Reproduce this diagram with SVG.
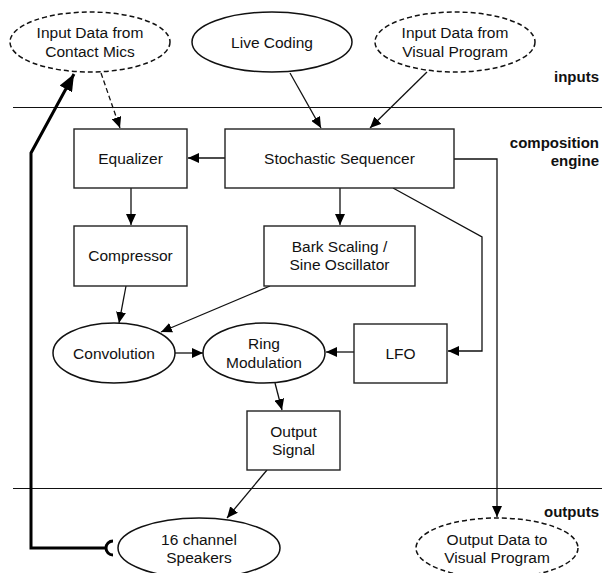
<svg xmlns="http://www.w3.org/2000/svg" width="602" height="573" viewBox="0 0 602 573">
  <defs>
    <marker id="arrow" markerWidth="12" markerHeight="10" refX="11" refY="5" orient="auto" markerUnits="userSpaceOnUse">
      <path d="M0,0 L11,5 L0,10 z" fill="#000"/>
    </marker>
    <marker id="arrowBig" markerWidth="18" markerHeight="14" refX="17" refY="7" orient="auto" markerUnits="userSpaceOnUse">
      <path d="M0,0 L17,7 L0,14 z" fill="#000"/>
    </marker>
    <style>
      .box { fill: #fff; stroke: #222; stroke-width: 1.4; }
      .oval { fill: #fff; stroke: #111; stroke-width: 1.5; }
      .dashed { stroke-dasharray: 5 3; }
      .lbl { font-family: "Liberation Sans", Arial, sans-serif; font-size: 15.5px; fill: #111; text-anchor: middle; }
      .zone { font-family: "Liberation Sans", Arial, sans-serif; font-size: 15px; font-weight: bold; fill: #111; text-anchor: end; }
      .edge { fill: none; stroke: #111; stroke-width: 1.3; }
      .sep { stroke: #111; stroke-width: 1; }
    </style>
  </defs>

  <rect width="602" height="573" fill="#fff"/>

  <!-- zone separators and labels -->
  <g id="zones">
    <line class="sep" x1="13" y1="107.5" x2="602" y2="107.5"/>
    <line class="sep" x1="13" y1="488.5" x2="602" y2="488.5"/>
    <text class="zone" x="599" y="82">inputs</text>
    <text class="zone" x="599" y="148">composition</text>
    <text class="zone" x="599" y="166">engine</text>
    <text class="zone" x="599" y="517">outputs</text>
  </g>

  <!-- connectors -->
  <g id="connectors">
    <line class="edge dashed" x1="101" y1="73" x2="120" y2="128" marker-end="url(#arrow)"/>
    <line class="edge" x1="290" y1="73" x2="321" y2="128" marker-end="url(#arrow)"/>
    <line class="edge" x1="427" y1="72" x2="370" y2="128" marker-end="url(#arrow)"/>
    <line class="edge" x1="225" y1="158" x2="188" y2="158" marker-end="url(#arrow)"/>
    <polyline class="edge" points="454,159 497,159 497,517" marker-end="url(#arrow)"/>
    <polyline class="edge" points="393,188 482,237 482,351 448,351" marker-end="url(#arrow)"/>
    <line class="edge" x1="131" y1="188" x2="131" y2="225" marker-end="url(#arrow)"/>
    <line class="edge" x1="340" y1="188" x2="340" y2="225" marker-end="url(#arrow)"/>
    <line class="edge" x1="126" y1="286" x2="119" y2="323" marker-end="url(#arrow)"/>
    <line class="edge" x1="270" y1="286" x2="161" y2="332" marker-end="url(#arrow)"/>
    <line class="edge" x1="175" y1="353" x2="203" y2="353" marker-end="url(#arrow)"/>
    <line class="edge" x1="354" y1="352" x2="326" y2="352" marker-end="url(#arrow)"/>
    <line class="edge" x1="275" y1="383" x2="282" y2="410" marker-end="url(#arrow)"/>
    <line class="edge" x1="267" y1="470" x2="227" y2="518" marker-end="url(#arrow)"/>
    <!-- speaker feedback into the contact mics -->
    <polyline fill="none" stroke="#000" stroke-width="3" points="105,548 31,548 31,153 74,74" marker-end="url(#arrowBig)"/>
    <path d="M113,541 A7,7 0 0 0 113,555" fill="none" stroke="#000" stroke-width="3"/>
  </g>

  <!-- nodes -->
  <g id="contact-mics">
    <ellipse class="oval dashed" cx="90" cy="42" rx="80" ry="30"/>
    <text class="lbl" x="90" y="38">Input Data from</text>
    <text class="lbl" x="90" y="57">Contact Mics</text>
  </g>
  <g id="live-coding">
    <ellipse class="oval" cx="272" cy="42" rx="80" ry="30"/>
    <text class="lbl" x="272" y="48">Live Coding</text>
  </g>
  <g id="visual-input">
    <ellipse class="oval dashed" cx="455" cy="42" rx="80" ry="30"/>
    <text class="lbl" x="455" y="38">Input Data from</text>
    <text class="lbl" x="455" y="57">Visual Program</text>
  </g>
  <g id="equalizer">
    <rect class="box" x="74" y="129" width="113" height="59"/>
    <text class="lbl" x="130.5" y="164">Equalizer</text>
  </g>
  <g id="sequencer">
    <rect class="box" x="225" y="129" width="229" height="59"/>
    <text class="lbl" x="339.5" y="164">Stochastic Sequencer</text>
  </g>
  <g id="compressor">
    <rect class="box" x="74" y="226" width="113" height="60"/>
    <text class="lbl" x="130.5" y="261">Compressor</text>
  </g>
  <g id="bark-scaling">
    <rect class="box" x="264" y="226" width="151" height="60"/>
    <text class="lbl" x="339.5" y="252">Bark Scaling /</text>
    <text class="lbl" x="339.5" y="270">Sine Oscillator</text>
  </g>
  <g id="convolution">
    <ellipse class="oval" cx="114" cy="353" rx="61" ry="30"/>
    <text class="lbl" x="114" y="359">Convolution</text>
  </g>
  <g id="ring-modulation">
    <ellipse class="oval" cx="264" cy="353" rx="61" ry="30"/>
    <text class="lbl" x="264" y="349">Ring</text>
    <text class="lbl" x="264" y="368">Modulation</text>
  </g>
  <g id="lfo">
    <rect class="box" x="354" y="324" width="93" height="59"/>
    <text class="lbl" x="400.5" y="359">LFO</text>
  </g>
  <g id="output-signal">
    <rect class="box" x="247" y="411" width="93" height="59"/>
    <text class="lbl" x="293.5" y="437">Output</text>
    <text class="lbl" x="293.5" y="455">Signal</text>
  </g>
  <g id="speakers">
    <ellipse class="oval" cx="199" cy="548" rx="81" ry="30"/>
    <text class="lbl" x="199" y="545">16 channel</text>
    <text class="lbl" x="199" y="563">Speakers</text>
  </g>
  <g id="visual-output">
    <ellipse class="oval dashed" cx="497" cy="548" rx="81" ry="30"/>
    <text class="lbl" x="497" y="545">Output Data to</text>
    <text class="lbl" x="497" y="563">Visual Program</text>
  </g>
</svg>
